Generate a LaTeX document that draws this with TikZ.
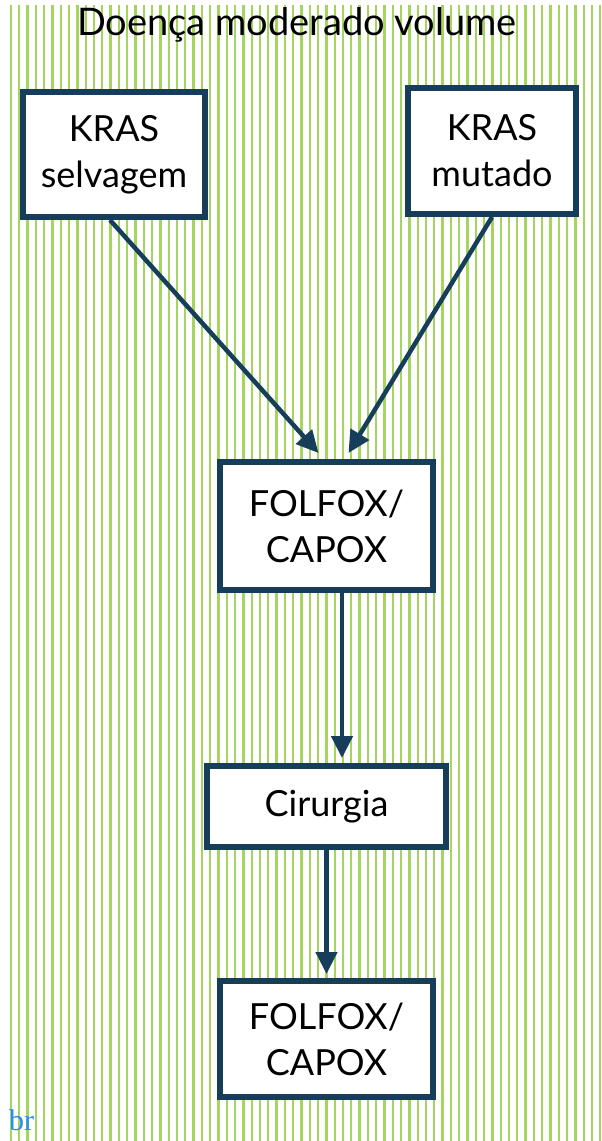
\documentclass[tikz,border=0pt]{standalone}
\usepackage{fontspec}
\setmainfont{Lato}
\newfontfamily\linkfont{Liberation Serif}
\usetikzlibrary{arrows.meta}
\definecolor{navy}{RGB}{22,62,90}
\definecolor{stripegreen}{RGB}{165,212,95}
\definecolor{linkblue}{RGB}{40,140,250}
\tikzset{
  box/.style={draw=navy, line width=6pt, fill=white, align=center, inner sep=0pt,
    font=\fontsize{36}{46}\selectfont},
  flow/.style={draw=navy, line width=4.5pt, -{Triangle[length=22pt,width=21pt]}}
}
\begin{document}
\begin{tikzpicture}[x=1pt,y=-1pt]
   \clip (0,0) rectangle (602,1141);
   \path[fill=white] (0,0) rectangle (602,1141);
   \foreach \x in {11,19.3,...,602} \draw[stripegreen, line width=2.3pt] (\x,5) -- (\x,1141);
   \node[font=\fontsize{38}{46}\selectfont] (title) at (297,25) {Doença moderado volume};
   \node[box, minimum width=182pt, minimum height=125pt] (ks) at (114,154.5) {KRAS\\selvagem};
   \node[box, minimum width=168pt, minimum height=126pt] (km) at (492,151) {KRAS\\mutado};
   \node[box, minimum width=213pt, minimum height=128pt] (fc1) at (326.5,526) {FOLFOX/\\CAPOX};
   \node[box, minimum width=239pt, minimum height=81pt] (cir) at (326.5,806.5) {Cirurgia};
   \node[box, minimum width=213pt, minimum height=116pt] (fc2) at (326.5,1039) {FOLFOX/\\CAPOX};
   \draw[flow] ([xshift=-4pt]ks.south) -- ([xshift=-8pt,yshift=6pt]fc1.north);
   \draw[flow] (km.south) -- ([xshift=22pt,yshift=6pt]fc1.north);
   \draw[flow] ([xshift=15.5pt]fc1.south) -- ([xshift=15.5pt,yshift=5pt]cir.north);
   \draw[flow] (cir.south) -- ([yshift=4pt]fc2.north);
   \node[anchor=base west, inner sep=0pt, text=linkblue, font=\linkfont\fontsize{30}{34}\selectfont] (br) at (9,1130) {br};
\end{tikzpicture}
\end{document}
